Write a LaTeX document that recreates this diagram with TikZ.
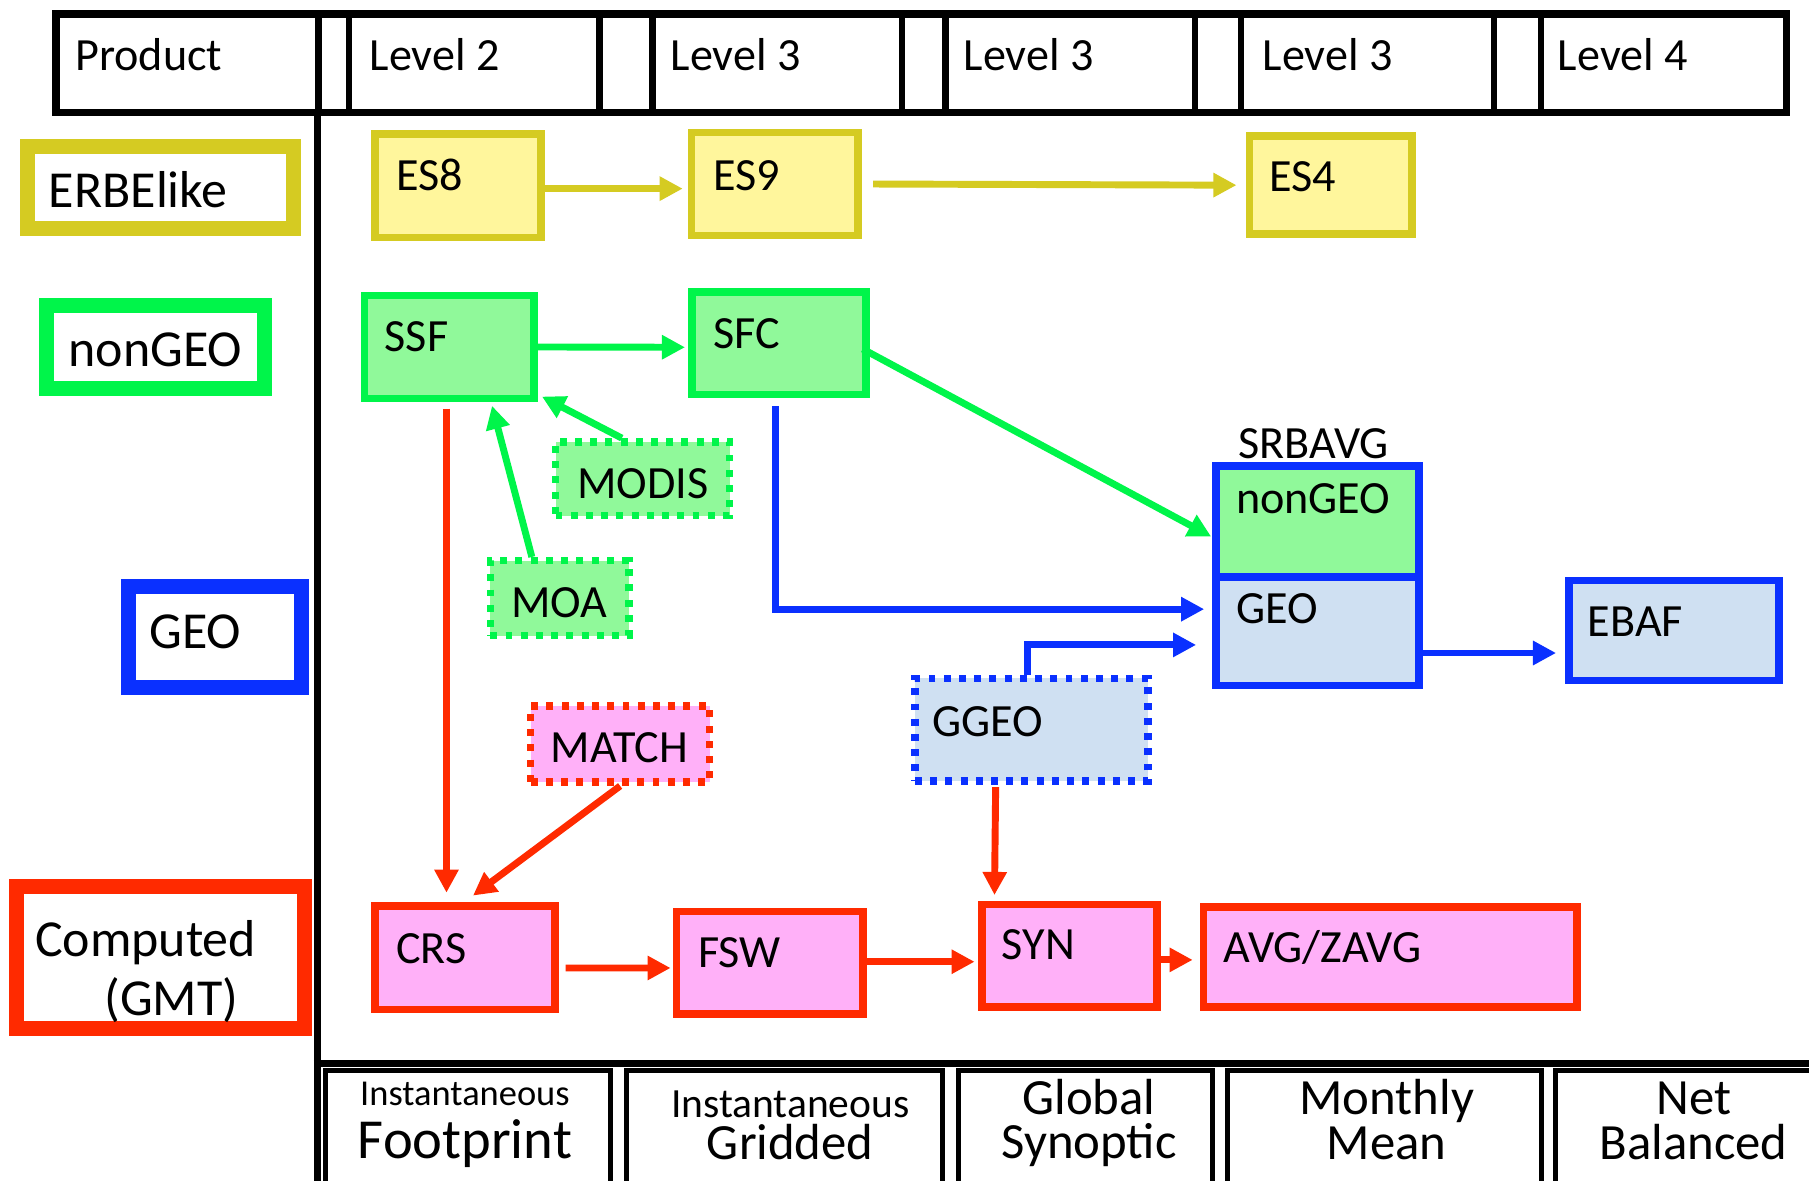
\documentclass[tikz,border=0pt]{standalone}
\usepackage{fontspec}
\setmainfont{Carlito}
\usetikzlibrary{arrows.meta,fit}

\definecolor{ylwline}{HTML}{D5CB22}
\definecolor{ylwfill}{HTML}{FFF69C}
\definecolor{grnline}{HTML}{00F54A}
\definecolor{grnfill}{HTML}{90F99A}
\definecolor{bluline}{HTML}{0A30FF}
\definecolor{blufill}{HTML}{CFE0F2}
\definecolor{redline}{HTML}{FF2A00}
\definecolor{redfill}{HTML}{FFB0F8}

\begin{document}
\begin{tikzpicture}[x=0.5pt,y=-0.5pt,
  cell/.style={draw=black, line width=2.75pt, inner sep=0pt},
  legend/.style={draw=#1line, fill=white, line width=6.5pt, inner sep=0pt},
  prod/.style={draw=#1line, fill=#1fill, line width=3.25pt, inner sep=0pt},
  aux/.style={prod=#1, dash pattern=on 3pt off 3.6pt},
  txt/.style={anchor=base west, inner sep=0pt, font=\fontsize{20}{24}\selectfont},
  ctxt/.style={anchor=base, inner sep=0pt, font=\fontsize{20}{24}\selectfont},
  bigtxt/.style={anchor=base west, inner sep=0pt, font=\fontsize{22.5}{27}\selectfont},
  foot/.style={anchor=base, inner sep=0pt, font=\fontsize{22}{26}\selectfont},
  arr/.style={line width=3pt, color=#1line, -{Triangle[length=10pt,width=10pt]}},
]
\useasboundingbox (0,0) rectangle (1568,1023);
\clip (0,0) rectangle (1568,1023);
\fill[white] (0,0) rectangle (1568,1023);

% ---------- header row ----------
\node[cell, fit={(48.5,12) (1548.5,97.5)}, line width=3.25pt] (head) {};
\node[cell, fit={(48.5,12) (276,97.5)}]     (hprod) {};
\node[cell, fit={(302.5,12) (519.5,97.5)}]  (hl2) {};
\node[cell, fit={(565.5,12) (782,97.5)}]    (hl3a) {};
\node[cell, fit={(819.5,12) (1036,97.5)}]   (hl3b) {};
\node[cell, fit={(1075.5,12) (1295,97.5)}]  (hl3c) {};
\node[cell, fit={(1335.5,12) (1548.5,97.5)}] (hl4) {};
\node[txt] (thprod) at (65,61) {Product};
\node[txt] (thl2)   at (320,61) {Level 2};
\node[txt] (thl3a)  at (581,61) {Level 3};
\node[txt] (thl3b)  at (835,61) {Level 3};
\node[txt] (thl3c)  at (1094,61) {Level 3};
\node[txt] (thl4)   at (1350,61) {Level 4};

% ---------- panel frame ----------
\draw[line width=3pt] (275,97) -- (275,1030);
\draw[line width=3pt] (272,922) -- (1575,922);

% ---------- footer row ----------
\draw[line width=2pt] (282,1030) -- (282,928) -- (529,928) -- (529,1030);
\draw[line width=2pt] (543,1030) -- (543,928) -- (817,928) -- (817,1030);
\draw[line width=2pt] (831,1030) -- (831,928) -- (1051,928) -- (1051,1030);
\draw[line width=2pt] (1064,1030) -- (1064,928) -- (1336,928) -- (1336,1030);
\draw[line width=2pt] (1348,1030) -- (1348,928) -- (1575,928);
\node[anchor=base, inner sep=0pt, font=\fontsize{15.8}{19}\selectfont] (fi1) at (403,958) {Instantaneous};
\node[anchor=base, inner sep=0pt, font=\fontsize{24.5}{29}\selectfont] (ffp) at (403,1004) {Footprint};
\node[anchor=base, inner sep=0pt, font=\fontsize{18}{22}\selectfont] (fi2) at (685,969) {Instantaneous};
\node[foot] (fgr) at (685,1005) {Gridded};
\node[foot] (fgl) at (944,966) {Global};
\node[foot] (fsy) at (944,1004) {Synoptic};
\node[foot] (fmo) at (1202,966) {Monthly};
\node[foot] (fme) at (1202,1005) {Mean};
\node[foot] (fne) at (1468,966) {Net};
\node[foot] (fba) at (1468,1005) {Balanced};

% ---------- legend ----------
\node[legend=ylw, fit={(23.5,127) (254.5,198)}]     (lgerbe) {};
\node[legend=grn, fit={(40.5,264.5) (229.5,336.5)}] (lgngeo) {};
\node[legend=blu, fit={(111.5,508.5) (261.5,595.5)}] (lggeo) {};
\node[legend=red, fit={(14.5,768.5) (263.5,891.5)}] (lgcomp) {};
\node[bigtxt] (tlgerbe) at (42,180) {ERBElike};
\node[bigtxt] (tlgngeo) at (59,318) {nonGEO};
\node[bigtxt] (tlggeo)  at (129,562) {GEO};
\node[bigtxt] (tlgcomp) at (30,829) {Computed};
\node[bigtxt] (tlggmt)  at (90,880) {(GMT)};

% ---------- ERBE-like products ----------
\node[prod=ylw, fit={(325,116) (469,206)}]   (es8) {};
\node[prod=ylw, fit={(599.5,115) (743.5,204)}] (es9) {};
\node[prod=ylw, fit={(1083,118) (1224,203)}] (es4) {};
\node[txt] (tes8) at (343,165) {ES8};
\node[txt] (tes9) at (618,165) {ES9};
\node[txt] (tes4) at (1100,166) {ES4};

% ---------- nonGEO products ----------
\node[prod=grn, fit={(316,256) (463,345.5)}] (ssf) {};
\node[prod=grn, fit={(600,253) (750.5,342)}] (sfc) {};
\node[aux=grn, fit={(481.5,383) (632.5,447)}] (modis) {};
\node[aux=grn, fit={(425,486) (545,551)}] (moa) {};
\node[txt] (tssf) at (333,305) {SSF};
\node[txt] (tsfc) at (618,302) {SFC};
\node[ctxt] (tmodis) at (557,432) {MODIS};
\node[ctxt] (tmoa) at (485,535) {MOA};

% ---------- SRBAVG (nonGEO over GEO) ----------
\node[prod=grn, draw=bluline, fit={(1054,404) (1230,500)}] (sngeo) {};
\node[prod=blu, fit={(1054,500) (1230,594)}] (sgeo) {};
\node[txt] (tsrb) at (1073,397) {SRBAVG};
\node[txt] (tsngeo) at (1071,445) {nonGEO};
\node[txt] (tsgeo) at (1071,540) {GEO};

% ---------- GEO products ----------
\node[aux=blu, fit={(793,588) (995,677)}] (ggeo) {};
\node[prod=blu, fit={(1360,503) (1542,590)}] (ebaf) {};
\node[txt] (tggeo) at (808,638) {GGEO};
\node[txt] (tebaf) at (1376,552) {EBAF};

% ---------- computed products ----------
\node[aux=red, fit={(460,612) (615,678)}] (match) {};
\node[prod=red, fit={(325,785.5) (481,875)}] (crs) {};
\node[prod=red, fit={(586.5,790) (748,879)}] (fsw) {};
\node[prod=red, fit={(851,784) (1003,873)}] (syn) {};
\node[prod=red, fit={(1043,786) (1367,873)}] (avg) {};
\node[ctxt] (tmatch) at (537,661) {MATCH};
\node[txt] (tcrs) at (343,835) {CRS};
\node[txt] (tfsw) at (605,839) {FSW};
\node[txt] (tsyn) at (868,832) {SYN};
\node[txt] (tavg) at (1060,834) {AVG/ZAVG};

% ---------- connectors ----------
\draw[arr=ylw] ([yshift=-1.25pt]es8.east) -- ([xshift=-2.25pt,yshift=-2pt]es9.west);
\draw[arr=ylw] ([xshift=5pt]es9.east) -- ([xshift=-4pt]es4.west);

\draw[arr=grn] (ssf.east) -- ([xshift=-1.5pt,yshift=-1.75pt]sfc.west);
\draw[arr=grn] ([xshift=-9pt]modis.north) -- ([xshift=1.75pt,yshift=2.5pt]ssf.south east);
\draw[arr=grn] ([xshift=-12pt]moa.north) -- ([xshift=18.5pt,yshift=-1.5pt]ssf.south);
\draw[arr=grn] ([xshift=-3pt,yshift=-2.5pt]sfc.east) -- ([xshift=-0.5pt,yshift=-6.5pt]sngeo.west);

\draw[arr=blu] ([xshift=-1.4pt,yshift=-3.5pt]sfc.south) |- ([xshift=-3.5pt,yshift=9.5pt]sgeo.west);
\draw[arr=blu] ([xshift=-1.5pt]ggeo.north) |- ([xshift=-7pt,yshift=-6pt]sgeo.west);
\coordinate (geoout) at ([yshift=-9.5pt]sgeo.east);
\draw[arr=blu, shorten >=4pt] (geoout) -- (geoout -| ebaf.west);

\coordinate (ssfout) at ([xshift=-1.25pt,yshift=-2.75pt]ssf.south);
\draw[arr=red, shorten >=4.25pt] (ssfout) -- (ssfout |- crs.north);
\draw[arr=red] (match.south) -- ([xshift=3.5pt,yshift=3pt]crs.north);
\draw[arr=red] ([xshift=-15.5pt,yshift=-1pt]ggeo.south) -- ([xshift=-32.5pt,yshift=2.5pt]syn.north);
\draw[arr=red] ([xshift=3pt,yshift=-4.4pt]crs.east) -- ([xshift=-1pt,yshift=-2.25pt]fsw.west);
\draw[arr=red] ([yshift=0.45pt]fsw.east) -- ([xshift=-1.5pt,yshift=-2.55pt]syn.west);
\draw[arr=red] ([yshift=-1.75pt]syn.east) -- ([xshift=-3pt,yshift=-1.25pt]avg.west);
\end{tikzpicture}
\end{document}
